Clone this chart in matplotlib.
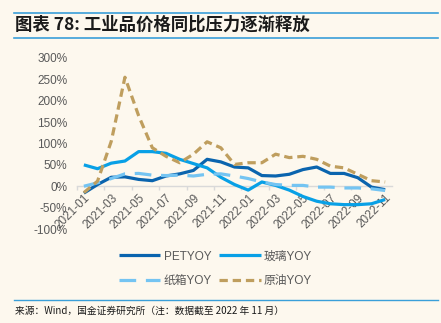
import matplotlib
matplotlib.use("Agg")
import matplotlib.pyplot as plt
from matplotlib.lines import Line2D

plt.rcParams['font.family'] = ['Liberation Sans', 'Noto Sans CJK SC']
plt.rcParams['lines.scale_dashes'] = False

months = ["2021-01", "2021-02", "2021-03", "2021-04", "2021-05", "2021-06", "2021-07",
          "2021-08", "2021-09", "2021-10", "2021-11", "2021-12", "2022-01", "2022-02",
          "2022-03", "2022-04", "2022-05", "2022-06", "2022-07", "2022-08", "2022-09",
          "2022-10", "2022-11"]
pet = [-16, 4, 21, 22, 16, 13, 24, 29, 37, 63, 57, 45, 43, 25, 24, 28, 39, 45, 30, 30, 20, -2, -8]
glass = [50, 41, 54, 59, 81, 81, 77, 63, 53, 43, 21, 4, -9, 10, 2, -9, -24, -35, -41, -43, -43, -41, -31]
carton = [0, 8, 18, 29, 30, 26, 25, 26, 24, 28, 29, 24, 18, 10, 4, 2, 2, -2, -2, -4, -4, -6, -10]
crude = [-15, 12, 105, 255, 165, 90, 70, 55, 75, 104, 90, 51, 55, 55, 75, 67, 70, 63, 47, 43, 28, 13, 10]
yticks = [-100, -50, 0, 50, 100, 150, 200, 250, 300]

bg = '#FDF8EE'
c_pet = '#0A64AE'
c_glass = '#08A0E6'
c_carton = '#74C4F2'
c_crude = '#BF9E5E'
txt = '#595959'

W, H = 441, 323
fig = plt.figure(figsize=(W / 100, H / 100), dpi=100, facecolor=bg)
ax = fig.add_axes([77 / W, 1 - 229 / H, 315 / W, 171 / H], facecolor=bg)

x = list(range(len(months)))
lw = 2.3
l_pet, = ax.plot(x, pet, color=c_pet, lw=lw, label='PETYOY', solid_capstyle='butt')
l_glass, = ax.plot(x, glass, color=c_glass, lw=lw, label='玻璃YOY', solid_capstyle='butt')
l_carton, = ax.plot(x, carton, color=c_carton, lw=lw, dashes=(12, 7), label='纸箱YOY', dash_capstyle='butt')
l_crude, = ax.plot(x, crude, color=c_crude, lw=lw, dashes=(6, 3.5), label='原油YOY', dash_capstyle='butt')

ax.set_xlim(-0.5, len(months) - 0.5)
ax.set_ylim(-100, 300)
ax.set_yticks(yticks)
ax.set_yticklabels([f'{v}%' for v in yticks], fontsize=8.5, color=txt)
ax.tick_params(axis='y', length=0, pad=7)

for s in ['top', 'right', 'left']:
    ax.spines[s].set_visible(False)
ax.spines['bottom'].set_position(('data', 0))
ax.spines['bottom'].set_color('#D9D9D9')
ax.spines['bottom'].set_linewidth(1.0)
ax.spines['bottom'].set_zorder(0)

ax.set_xticks(x[::2])
ax.set_xticklabels(months[::2], rotation=45, ha='right', rotation_mode='anchor',
                   fontsize=8.5, color=txt)
ax.set_xticks([i - 0.5 for i in x[::2]], minor=True)
ax.tick_params(axis='x', which='major', length=0, pad=4)
ax.tick_params(axis='x', which='minor', length=3, color='#D9D9D9', width=1)

handles = [l_pet, l_carton, l_glass, l_crude]
leg = fig.legend(handles=handles, labels=[h.get_label() for h in handles],
                 loc='center', bbox_to_anchor=(0.489, 1 - 269 / H), ncol=2,
                 frameon=False, fontsize=8.5, handlelength=3.5, handletextpad=0.3,
                 columnspacing=0.6, labelspacing=1.1)
for t in leg.get_texts():
    t.set_color(txt)

# title & decorations
fig.add_artist(Line2D([14 / W, 438 / W], [1 - 13 / H, 1 - 13 / H], color='#3A9FD9', lw=1.2))
fig.add_artist(Line2D([14 / W, 438 / W], [1 - 38 / H, 1 - 38 / H], color='#3A9FD9', lw=1.2))
fig.text(15 / W, 1 - 25 / H, '图表 78: 工业品价格同比压力逐渐释放', fontsize=12.5,
         fontweight='bold', style='italic', va='center', ha='left', color='#1A1A1A',
         family=['Noto Sans CJK SC', 'DejaVu Sans'])
fig.add_artist(Line2D([14 / W, 438 / W], [1 - 300 / H, 1 - 300 / H], color='#3A9FD9', lw=1.0))
fig.text(15 / W, 1 - 311 / H, '来源：Wind，国金证券研究所（注：数据截至 2022 年 11 月）',
         fontsize=7.0, va='center', ha='left', color='#1A1A1A',
         family=['Noto Sans CJK SC', 'DejaVu Sans'])

fig.savefig('out.png', dpi=100, facecolor=bg)
